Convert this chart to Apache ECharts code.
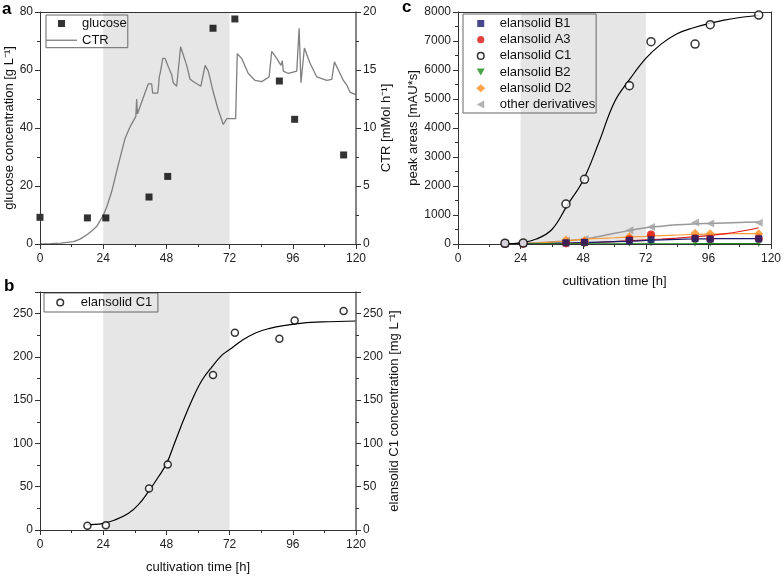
<!DOCTYPE html>
<html>
<head>
<meta charset="utf-8">
<script src="https://cdn.jsdelivr.net/npm/echarts@6/dist/echarts.min.js"></script>
<style>html,body{margin:0;padding:0;background:#fff;}#c{width:784px;height:577px;}</style>
</head>
<body>
<div id="c"></div>
<script>
// ---------- data ----------
const glucoseT = [0, 18, 25, 41.4, 48.5, 65.7, 74, 90.9, 96.7, 115.3];
const glucose  = [9.2, 9.0, 9.0, 16.2, 23.3, 74.4, 77.6, 56.2, 43.0, 30.7];

const ctrT = [0, 4, 8, 12.7, 15, 17.7, 19.5, 21.5, 24.1, 25.5, 27.2, 29.7, 32.3, 34.2, 36.4, 36.7, 37.0, 37.3, 39.2, 41.1, 42.4, 42.8, 44.7, 45.0, 45.3, 45.8, 46.6, 47.5, 48.7, 50.0, 50.6, 51.9, 53.4, 55.7, 57.0, 58.9, 61.1, 62.7, 63.9, 65.8, 67.5, 69.6, 70.9, 74.3, 74.9, 76.6, 79.1, 81.7, 84.2, 87.0, 88.0, 89.9, 91.5, 92.0, 92.4, 94.3, 97.5, 98.4, 99.1, 100.4, 102.5, 105.1, 108.9, 110.8, 111.8, 113.3, 115.2, 116.5, 117.7, 119.6, 120];
const ctr  = [0, 0.03, 0.08, 0.2, 0.4, 0.78, 1.1, 1.5, 2.5, 3.3, 4.5, 6.8, 9.1, 10.1, 11.0, 12.5, 11.2, 11.4, 12.6, 13.8, 13.8, 13.0, 13.0, 13.6, 14.4, 14.9, 16.0, 16.0, 15.3, 14.6, 13.9, 13.6, 17.0, 15.4, 14.2, 13.9, 13.6, 15.4, 14.9, 13.1, 11.7, 10.3, 10.8, 10.8, 16.4, 16.0, 14.7, 14.1, 14.0, 14.4, 16.6, 16.0, 15.4, 15.8, 14.9, 14.7, 14.9, 18.6, 13.9, 16.9, 15.6, 14.4, 14.1, 14.2, 15.7, 15.0, 14.1, 13.7, 13.1, 12.9, 12.85];

const sampleT = [18, 25, 41.4, 48.5, 65.7, 74, 90.9, 96.7, 115.3];
const c1Conc  = [5, 5.4, 48, 75.8, 179, 228, 221, 242, 253];
const c1ConcFitT = [18, 20.8, 24, 28.4, 33.5, 37.3, 41.1, 45, 48.1, 51.3, 54.5, 57.7, 61.5, 65.3, 69.1, 72, 76.7, 81.8, 86.9, 93.2, 99.6, 107.2, 120];
const c1ConcFit  = [6.3, 6.5, 7.7, 11.5, 19, 29, 44, 61.5, 77, 102, 127, 150, 173, 188.5, 202, 208.5, 219, 227.7, 232.7, 236.5, 239, 240.4, 241.5];

const peakB1    = [10, 15, 40, 55, 120, 150, 190, 170, 180];
const peakA3    = [5, 10, 30, 50, 160, 330, 200, 180, 190];
const peakC1    = [23, 34, 1379, 2229, 5458, 6975, 6894, 7561, 7894];
const peakB2    = [5, 5, 10, 15, 40, 50, 40, 40, 35];
const peakD2    = [30, 20, 140, 120, 250, 290, 370, 350, 350];
const peakOther = [20, 30, 120, 170, 470, 585, 740, 705, 730];

const fitT        = [18, 24, 30, 36, 42, 48, 54, 60, 66, 72, 78, 84, 90, 96, 102, 108, 115.3];
const fitC1       = [0, 40, 170, 500, 1350, 2200, 3500, 4900, 5700, 6400, 6900, 7250, 7450, 7600, 7720, 7810, 7880];
const fitB1       = [0, 0, 5, 20, 35, 50, 68, 85, 102, 120, 140, 160, 172, 180, 183, 184, 185];
const fitA3       = [0, 0, 5, 12, 25, 40, 60, 85, 110, 140, 170, 205, 245, 290, 350, 430, 560];
const fitB2       = [0, 0, 1, 2, 3, 4, 5, 6, 7, 8, 8, 9, 9, 10, 10, 10, 10];
const fitD2       = [0, 10, 30, 65, 110, 160, 190, 215, 242, 265, 290, 310, 328, 340, 350, 355, 360];
const fitOther    = [0, 15, 40, 75, 115, 165, 260, 370, 470, 560, 615, 660, 690, 710, 728, 742, 755];

// ---------- helpers ----------
const pairs = (xs, ys) => xs.map((x, i) => [x, ys[i]]);
const FONT = '"Liberation Sans", Arial, sans-serif';
const AX = '#333';
const plain = v => String(v);
const shade = {
  silent: true,
  itemStyle: { color: '#e6e6e6' },
  data: [[{ xAxis: 24 }, { xAxis: 72 }]]
};
const lbl = (extra) => Object.assign({ fontFamily: FONT, fontSize: 12, color: '#222', margin: 7, formatter: plain }, extra || {});
function xAx(grid, name) {
  return {
    type: 'value', gridIndex: grid, min: 0, max: 120, interval: 24, z: 5,
    name: name || '', nameLocation: 'middle', nameGap: 31,
    nameTextStyle: { fontFamily: FONT, fontSize: 13, color: '#111' },
    axisLine: { show: true, onZero: false, lineStyle: { color: AX, width: 1 } },
    axisTick: { show: true, length: 5, lineStyle: { color: AX } },
    minorTick: { show: true, splitNumber: 2, length: 3, lineStyle: { color: AX } },
    axisLabel: lbl({ margin: 9 }),
    splitLine: { show: false }
  };
}
function frameX(grid) {
  return { type: 'value', gridIndex: grid, position: 'top', min: 0, max: 120, z: 5,
    axisLine: { show: true, onZero: false, lineStyle: { color: AX } },
    axisTick: { show: false }, axisLabel: { show: false }, splitLine: { show: false } };
}
function yAx(grid, opts) {
  return Object.assign({
    type: 'value', gridIndex: grid, z: 5,
    nameLocation: 'middle', nameRotate: 90,
    nameTextStyle: { fontFamily: FONT, fontSize: 13, color: '#111' },
    axisLine: { show: true, onZero: false, lineStyle: { color: AX, width: 1 } },
    axisTick: { show: true, length: 5, lineStyle: { color: AX } },
    minorTick: { show: true, splitNumber: 2, length: 3, lineStyle: { color: AX } },
    axisLabel: lbl(),
    splitLine: { show: false }
  }, opts);
}
const rightLine = { show: true, onZero: false, lineStyle: { color: '#666', width: 1.6 } };
// legend icons: leading "M0,0M w,h" fixes the icon box to the legend slot
const icA_sq   = 'path://M0,0M31,8M12,0.5h7v7h-7z';
const icA_line = 'path://M0,0M31,8M0,3.4h31v1.3h-31z';
const icB_circ = 'path://M0,0M31,8M18.8,4A3.3,3.3,0,1,1,12.2,4A3.3,3.3,0,1,1,18.8,4z';
const icC_sq   = 'path://M0,0M28,8M10.5,0.5h7v7h-7z';
const icC_circ = 'path://M0,0M28,8M17.6,4A3.6,3.6,0,1,1,10.4,4A3.6,3.6,0,1,1,17.6,4z';
const icC_ocirc= 'path://M0,0M28,8M17.3,4A3.3,3.3,0,1,1,10.7,4A3.3,3.3,0,1,1,17.3,4z';
const icC_triD = 'path://M0,0M28,8M10,0.5L18,0.5L14,7.5z';
const icC_dia  = 'path://M0,0M28,8M14,0L18.5,4L14,8L9.5,4z';
const icC_triL = 'path://M0,0M28,8M10,4L17.5,0L17.5,8z';

const option = {
  animation: false,
  backgroundColor: '#fff',
  textStyle: { fontFamily: FONT },
  grid: [
    { left: 40, top: 12, width: 316, height: 232 },
    { left: 40, top: 292, width: 316, height: 238 },
    { left: 458, top: 12, width: 315, height: 232 }
  ],
  xAxis: [
    xAx(0, ''), xAx(1, 'cultivation time [h]'), xAx(2, 'cultivation time [h]'),
    frameX(0), frameX(1), frameX(2)
  ],
  yAxis: [
    yAx(0, { min: 0, max: 80, interval: 20, name: 'glucose concentration [g L⁻¹]', nameGap: 19 }),
    yAx(0, { position: 'right', min: 0, max: 20, interval: 5, name: 'CTR [mMol h⁻¹]', nameGap: 23, axisLine: rightLine }),
    yAx(1, { min: 0, max: 275, interval: 50, axisLabel: lbl({ showMaxLabel: false }) }),
    yAx(1, { position: 'right', min: 0, max: 275, interval: 50, name: 'elansolid C1 concentration [mg L⁻¹]', nameGap: 32, axisLine: rightLine, axisLabel: lbl({ showMaxLabel: false }) }),
    yAx(2, { min: 0, max: 8000, interval: 1000, name: 'peak areas [mAU*s]', nameGap: 31 }),
    yAx(2, { position: 'right', min: 0, max: 8000, axisTick: { show: false }, minorTick: { show: false }, axisLabel: { show: false } })
  ],
  legend: [
    { left: 46, top: 15, orient: 'vertical', itemWidth: 31, itemHeight: 8, itemGap: 3.7, padding: [2, 1, 1, 0],
      borderColor: '#666', borderWidth: 1, textStyle: { fontFamily: FONT, fontSize: 13, color: '#111' },
      data: [{ name: 'glucose', icon: icA_sq }, { name: 'CTR', icon: icA_line }] },
    { left: 44, top: 293, orient: 'vertical', itemWidth: 31, itemHeight: 8, padding: [3, 2, 3, 0],
      borderColor: '#666', borderWidth: 1, textStyle: { fontFamily: FONT, fontSize: 13, color: '#111' },
      data: [{ name: 'elansolid C1 ', icon: icB_circ, itemStyle: { color: '#fff', borderColor: '#000', borderWidth: 1.5 } }] },
    { left: 463, top: 14, orient: 'vertical', itemWidth: 28, itemHeight: 8, itemGap: 3.2, padding: [3, 1, 2, 3],
      borderColor: '#666', borderWidth: 1, textStyle: { fontFamily: FONT, fontSize: 13, color: '#111' },
      data: [
        { name: 'elansolid B1', icon: icC_sq },
        { name: 'elansolid A3', icon: icC_circ },
        { name: 'elansolid C1', icon: icC_ocirc, itemStyle: { color: '#fff', borderColor: '#000', borderWidth: 1.5 } },
        { name: 'elansolid B2', icon: icC_triD },
        { name: 'elansolid D2', icon: icC_dia },
        { name: 'other derivatives', icon: icC_triL }
      ] }
  ],
  graphic: [
    { type: 'text', left: 2, top: 1, style: { text: 'a', font: 'bold 17px ' + FONT, fill: '#000' } },
    { type: 'text', left: 4, top: 278, style: { text: 'b', font: 'bold 17px ' + FONT, fill: '#000' } },
    { type: 'text', left: 402, top: -1, style: { text: 'c', font: 'bold 17px ' + FONT, fill: '#000' } }
  ],
  series: [
    // panel a
    { name: 'glucose', type: 'scatter', xAxisIndex: 0, yAxisIndex: 0, symbol: 'rect', symbolSize: 7,
      itemStyle: { color: '#000' }, data: pairs(glucoseT, glucose), markArea: shade, z: 3 },
    { name: 'CTR', type: 'line', xAxisIndex: 0, yAxisIndex: 1, symbol: 'none',
      lineStyle: { color: '#7f7f7f', width: 1.3 }, itemStyle: { color: '#7f7f7f' }, data: pairs(ctrT, ctr), z: 2 },
    // panel b
    { name: 'elansolid C1 ', type: 'scatter', xAxisIndex: 1, yAxisIndex: 2, symbol: 'circle', symbolSize: 7,
      itemStyle: { color: '#fff', borderColor: '#000', borderWidth: 1.5 }, data: pairs(sampleT, c1Conc), markArea: shade, z: 4 },
    { name: 'fitB', type: 'line', xAxisIndex: 1, yAxisIndex: 2, symbol: 'none', smooth: 0.4,
      lineStyle: { color: '#000', width: 1.2 }, data: pairs(c1ConcFitT, c1ConcFit), z: 3 },
    // panel c fits
    { name: 'fitOther', type: 'line', xAxisIndex: 2, yAxisIndex: 4, symbol: 'none', smooth: 0.4, lineStyle: { color: '#999', width: 1.5 }, data: pairs(fitT, fitOther), z: 3, markArea: shade },
    { name: 'fitD2', type: 'line', xAxisIndex: 2, yAxisIndex: 4, symbol: 'none', smooth: 0.4, lineStyle: { color: '#ff9933', width: 1.2 }, data: pairs(fitT, fitD2), z: 3 },
    { name: 'fitA3', type: 'line', xAxisIndex: 2, yAxisIndex: 4, symbol: 'none', smooth: 0.4, lineStyle: { color: '#dd1c1c', width: 1.2 }, data: pairs(fitT, fitA3), z: 3 },
    { name: 'fitB1', type: 'line', xAxisIndex: 2, yAxisIndex: 4, symbol: 'none', smooth: 0.4, lineStyle: { color: '#1a1a6e', width: 1.2 }, data: pairs(fitT, fitB1), z: 3 },
    { name: 'fitB2', type: 'line', xAxisIndex: 2, yAxisIndex: 4, symbol: 'none', smooth: 0.4, lineStyle: { color: '#1a8c1a', width: 1.2 }, data: pairs(fitT, fitB2), z: 3 },
    { name: 'fitC1', type: 'line', xAxisIndex: 2, yAxisIndex: 4, symbol: 'none', smooth: 0.4, lineStyle: { color: '#000', width: 1.2 }, data: pairs(fitT, fitC1), z: 3 },
    // panel c points
    { name: 'other derivatives', type: 'scatter', xAxisIndex: 2, yAxisIndex: 4, symbol: 'triangle', symbolRotate: 90, symbolSize: 8, itemStyle: { color: '#a0a0a0' }, data: pairs(sampleT, peakOther), z: 4 },
    { name: 'elansolid D2', type: 'scatter', xAxisIndex: 2, yAxisIndex: 4, symbol: 'diamond', symbolSize: 9, itemStyle: { color: '#ff8c1a' }, data: pairs(sampleT, peakD2), z: 4 },
    { name: 'elansolid B2', type: 'scatter', xAxisIndex: 2, yAxisIndex: 4, symbol: 'triangle', symbolRotate: 180, symbolSize: 8, itemStyle: { color: '#1a8c1a' }, data: pairs(sampleT, peakB2), z: 4 },
    { name: 'elansolid A3', type: 'scatter', xAxisIndex: 2, yAxisIndex: 4, symbol: 'circle', symbolSize: 8, itemStyle: { color: '#dd1111' }, data: pairs(sampleT, peakA3), z: 4 },
    { name: 'elansolid B1', type: 'scatter', xAxisIndex: 2, yAxisIndex: 4, symbol: 'rect', symbolSize: 7, itemStyle: { color: '#1a1a6e' }, data: pairs(sampleT, peakB1), z: 4 },
    { name: 'elansolid C1', type: 'scatter', xAxisIndex: 2, yAxisIndex: 4, symbol: 'circle', symbolSize: 8, itemStyle: { color: '#fff', borderColor: '#000', borderWidth: 1.5 }, data: pairs(sampleT, peakC1), z: 5 }
  ]
};
const chart = echarts.init(document.getElementById('c'), null, { renderer: 'canvas' });
chart.setOption(option);
</script>
</body>
</html>
